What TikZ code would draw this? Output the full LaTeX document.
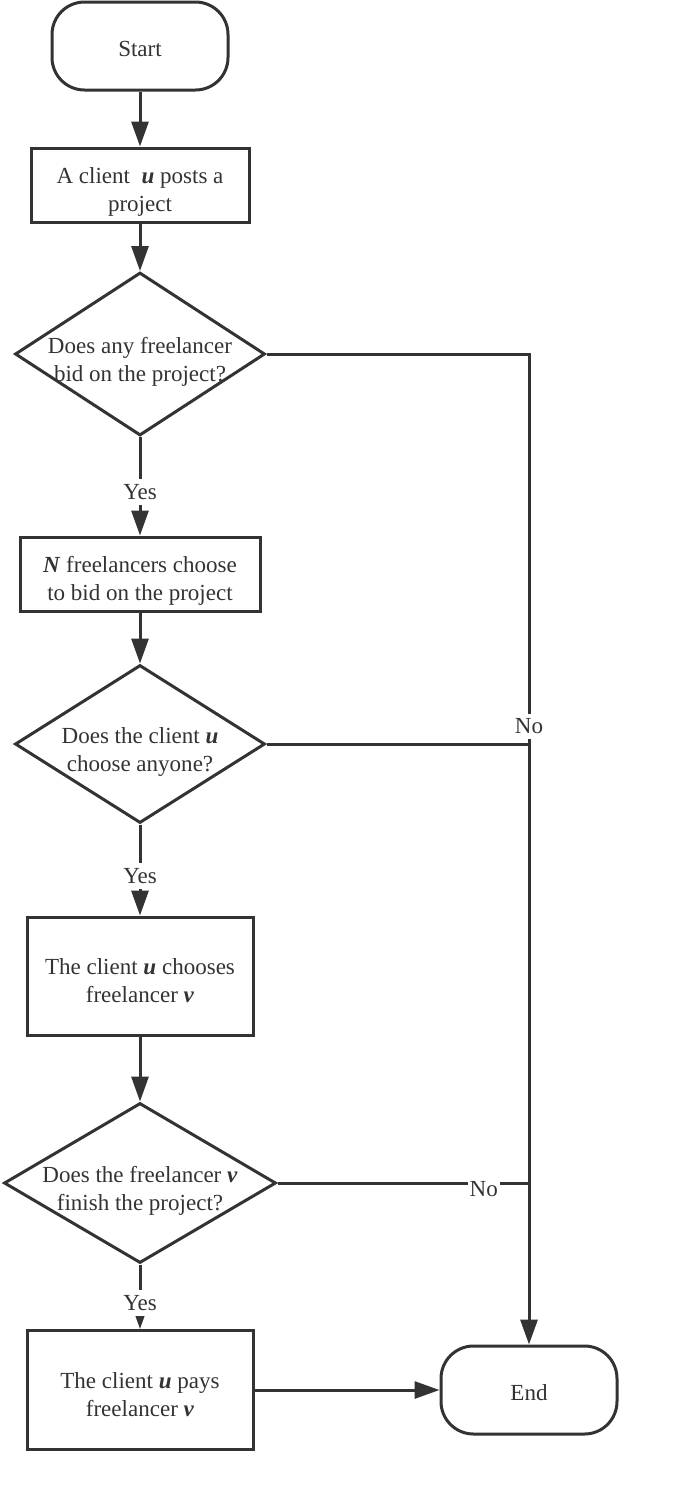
\documentclass[tikz,border=0pt]{standalone}
\usepackage{fontspec}
\setmainfont{Liberation Serif}
\usetikzlibrary{arrows.meta,shapes.geometric}
\definecolor{ink}{HTML}{333333}
\newcommand{\bi}[1]{\textbf{\textit{#1}}}
\tikzset{
  ktext/.style={align=center, text=ink, font=\fontsize{13.1}{15.9}\selectfont},
  box/.style={ktext, draw=ink, line width=0.06cm, text height=1.064cm, text depth=0pt},
  kterm/.style={box, rounded corners=0.65cm, minimum width=3.52cm, minimum height=1.76cm, text height=0.424cm},
  kdecision/.style={draw=ink, line width=0.06cm, diamond, inner sep=0pt},
  klabel/.style={ktext, fill=white, inner xsep=1pt, inner ysep=3pt, yshift=-0.12cm},
  flow/.style={-{Triangle[length=0.5cm, width=0.34cm]}, draw=ink, line width=0.06cm},
  link/.style={draw=ink, line width=0.06cm},
}

\begin{document}
\begin{tikzpicture}
    \useasboundingbox (0,0) rectangle (13.82,-30.18);
    \node[kterm] (start) at (2.80,-0.92) {Start};
    \node[box, minimum width=4.36cm, minimum height=1.48cm] (post) at (2.80,-3.70) {A client \ \bi{u} posts a\\project};
    \node[kdecision, minimum width=5.00cm, minimum height=3.26cm, label={[ktext, yshift=-0.16cm]center:Does any freelancer\\bid on the project?}] (bid) at (2.80,-7.08) {};
    \node[box, minimum width=4.80cm, minimum height=1.48cm] (choose) at (2.80,-11.48) {\bi{N} freelancers choose\\to bid on the project};
    \node[kdecision, minimum width=5.00cm, minimum height=3.16cm, label={[ktext, yshift=-0.16cm]center:Does the client \bi{u}\\choose anyone?}] (anyone) at (2.80,-14.88) {};
    \node[box, minimum width=4.52cm, minimum height=2.36cm] (chooses) at (2.80,-19.52) {The client \bi{u} chooses\\freelancer \bi{v}};
    \node[kdecision, minimum width=5.44cm, minimum height=3.20cm, label={[ktext, yshift=-0.16cm]center:Does the freelancer \bi{v}\\finish the project?}] (finish) at (2.80,-23.66) {};
    \node[box, minimum width=4.52cm, minimum height=2.38cm] (pays) at (2.80,-27.80) {The client \bi{u} pays\\freelancer \bi{v}};
    \node[kterm] (end) at (10.58,-27.80) {End};
    \draw[flow] (start) -- (post);
    \draw[flow] (post) -- (bid);
    \draw[flow] (bid) -- (choose) node[midway, klabel]{Yes};
    \draw[flow] (choose) -- (anyone);
    \draw[flow] (anyone) -- (chooses) node[midway, klabel]{Yes};
    \draw[flow] (chooses) -- (finish);
    \draw[flow] (finish) -- (pays) node[midway, klabel]{Yes};
    \draw[flow] (pays) -- (end);
    \draw[flow] (bid.east) -| (end.north) node[pos=0.685, klabel]{No};
    \draw[link] (anyone.east) -- (anyone.east -| end.north);
    \draw[link] (finish.east) -- (finish.east -| end.north) node[pos=0.82, klabel]{No};
  \end{tikzpicture}
\end{document}
